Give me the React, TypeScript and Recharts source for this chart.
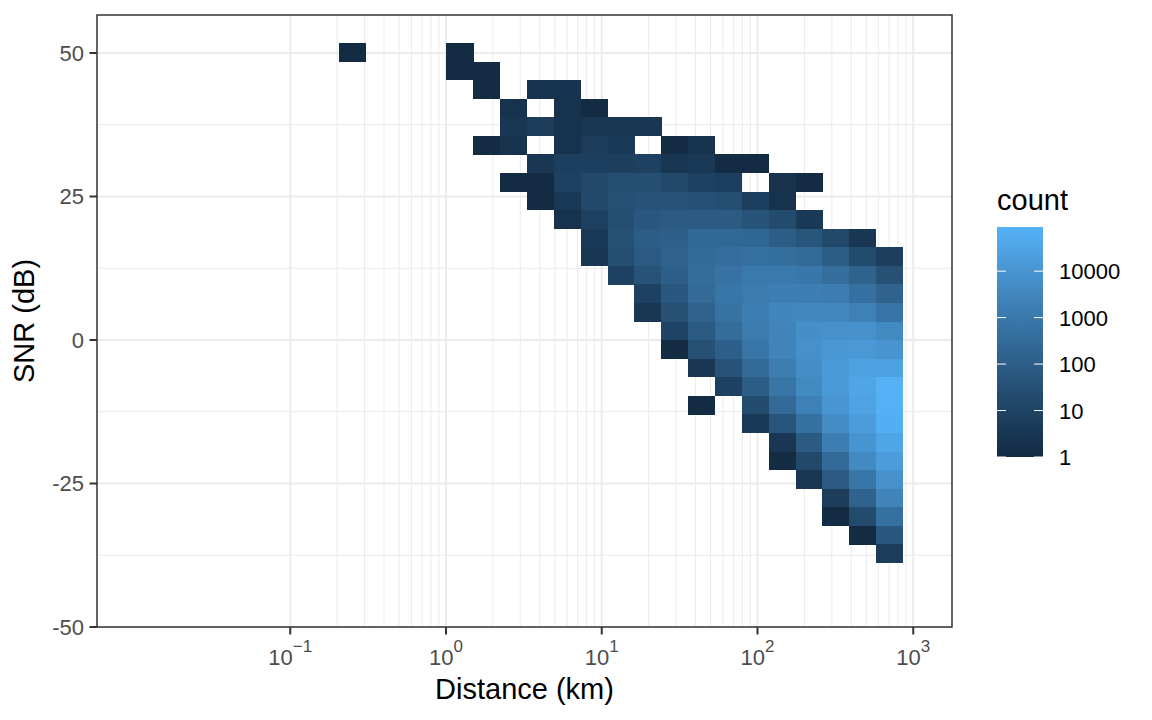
import React from "react";
import { ScatterChart, Scatter, XAxis, YAxis, CartesianGrid, ReferenceArea } from "recharts";

const distanceBins = [0.2506, 0.3728, 0.5544, 0.8248, 1.227, 1.825, 2.715, 4.04, 6.01, 8.94, 13.3, 19.78, 29.42, 43.76, 65.1, 96.8, 144, 214.2, 318.6, 473.9, 704.9];
const snrBins = [50.12, 46.89, 43.65, 40.42, 37.18, 33.95, 30.71, 27.48, 24.24, 21.0, 17.77, 14.54, 11.3, 8.06, 4.83, 1.59, -1.64, -4.88, -8.11, -11.35, -14.58, -17.82, -21.05, -24.28, -27.52, -30.76, -33.99, -37.23];
const counts = [
  [1, 0, 0, 0, 1, 0, 0, 0, 0, 0, 0, 0, 0, 0, 0, 0, 0, 0, 0, 0, 0],
  [0, 0, 0, 0, 1, 1, 0, 0, 0, 0, 0, 0, 0, 0, 0, 0, 0, 0, 0, 0, 0],
  [0, 0, 0, 0, 0, 1, 0, 2, 2, 0, 0, 0, 0, 0, 0, 0, 0, 0, 0, 0, 0],
  [0, 0, 0, 0, 0, 0, 2, 0, 2, 1, 0, 0, 0, 0, 0, 0, 0, 0, 0, 0, 0],
  [0, 0, 0, 0, 0, 0, 3, 5, 2, 3, 3, 3, 0, 0, 0, 0, 0, 0, 0, 0, 0],
  [0, 0, 0, 0, 0, 1, 2, 0, 2, 5, 4, 0, 1, 2, 0, 0, 0, 0, 0, 0, 0],
  [0, 0, 0, 0, 0, 0, 0, 3, 7, 7, 6, 8, 3, 4, 1, 1, 0, 0, 0, 0, 0],
  [0, 0, 0, 0, 0, 0, 1, 1, 8, 15, 25, 25, 15, 8, 7, 0, 2, 1, 0, 0, 0],
  [0, 0, 0, 0, 0, 0, 0, 1, 4, 15, 30, 40, 40, 35, 25, 7, 2, 0, 0, 0, 0],
  [0, 0, 0, 0, 0, 0, 0, 0, 2, 8, 25, 60, 80, 80, 80, 40, 20, 4, 0, 0, 0],
  [0, 0, 0, 0, 0, 0, 0, 0, 0, 4, 30, 100, 120, 250, 250, 220, 100, 50, 15, 3, 0],
  [0, 0, 0, 0, 0, 0, 0, 0, 0, 3, 25, 70, 150, 300, 400, 500, 450, 300, 100, 20, 6],
  [0, 0, 0, 0, 0, 0, 0, 0, 0, 0, 8, 40, 120, 350, 600, 1000, 1000, 900, 400, 150, 30],
  [0, 0, 0, 0, 0, 0, 0, 0, 0, 0, 0, 8, 60, 300, 800, 1200, 1700, 1700, 1300, 500, 150],
  [0, 0, 0, 0, 0, 0, 0, 0, 0, 0, 0, 3, 30, 150, 600, 1500, 3000, 3500, 3500, 2000, 700],
  [0, 0, 0, 0, 0, 0, 0, 0, 0, 0, 0, 0, 10, 70, 350, 1200, 2500, 6000, 7000, 7000, 4000],
  [0, 0, 0, 0, 0, 0, 0, 0, 0, 0, 0, 0, 1, 30, 120, 800, 2500, 7000, 12000, 13000, 9000],
  [0, 0, 0, 0, 0, 0, 0, 0, 0, 0, 0, 0, 0, 3, 40, 300, 1500, 6000, 15000, 25000, 25000],
  [0, 0, 0, 0, 0, 0, 0, 0, 0, 0, 0, 0, 0, 0, 8, 100, 800, 4000, 15000, 35000, 80000],
  [0, 0, 0, 0, 0, 0, 0, 0, 0, 0, 0, 0, 0, 1, 0, 20, 300, 2000, 10000, 30000, 85000],
  [0, 0, 0, 0, 0, 0, 0, 0, 0, 0, 0, 0, 0, 0, 0, 4, 50, 500, 5000, 18000, 70000],
  [0, 0, 0, 0, 0, 0, 0, 0, 0, 0, 0, 0, 0, 0, 0, 0, 3, 80, 1500, 9000, 35000],
  [0, 0, 0, 0, 0, 0, 0, 0, 0, 0, 0, 0, 0, 0, 0, 0, 1, 15, 300, 4000, 18000],
  [0, 0, 0, 0, 0, 0, 0, 0, 0, 0, 0, 0, 0, 0, 0, 0, 0, 3, 80, 800, 7000],
  [0, 0, 0, 0, 0, 0, 0, 0, 0, 0, 0, 0, 0, 0, 0, 0, 0, 0, 5, 150, 2500],
  [0, 0, 0, 0, 0, 0, 0, 0, 0, 0, 0, 0, 0, 0, 0, 0, 0, 0, 1, 20, 500],
  [0, 0, 0, 0, 0, 0, 0, 0, 0, 0, 0, 0, 0, 0, 0, 0, 0, 0, 0, 1, 60],
  [0, 0, 0, 0, 0, 0, 0, 0, 0, 0, 0, 0, 0, 0, 0, 0, 0, 0, 0, 0, 5],
];
const xMajor = [0.1, 1, 10, 100, 1000];
const xMinor = [
  0.2, 0.3, 0.4, 0.5, 0.6, 0.7, 0.8, 0.9,
  2, 3, 4, 5, 6, 7, 8, 9,
  20, 30, 40, 50, 60, 70, 80, 90,
  200, 300, 400, 500, 600, 700, 800, 900,
];
const xExponents = ["\u22121", "0", "1", "2", "3"];
const yMajor = [-50, -25, 0, 25, 50];
const yMinor = [-37.5, -12.5, 12.5, 37.5];
const legendTicks = [1, 10, 100, 1000, 10000];

const FONT = '"Liberation Sans", Arial, sans-serif';
const X_DOMAIN = [0.005744, 1773.8];
const Y_DOMAIN = [-50, 56.62];
const CELL_W = 26.86;
const CELL_H = 18.57;
const MAX_LOG = 4.95;

// ggplot2 default gradient: #132B43 -> #56B1F7, interpolated in Lab
const toLab = (rgb: number[]) => {
  const l = rgb.map((c) => {
    const v = c / 255;
    return v > 0.04045 ? Math.pow((v + 0.055) / 1.055, 2.4) : v / 12.92;
  });
  const X = (0.4124 * l[0] + 0.3576 * l[1] + 0.1805 * l[2]) / 0.95047;
  const Y = 0.2126 * l[0] + 0.7152 * l[1] + 0.0722 * l[2];
  const Z = (0.0193 * l[0] + 0.1192 * l[1] + 0.9505 * l[2]) / 1.08883;
  const f = (t: number) => (t > 0.008856 ? Math.cbrt(t) : 7.787 * t + 16 / 116);
  return [116 * f(Y) - 16, 500 * (f(X) - f(Y)), 200 * (f(Y) - f(Z))];
};
const fromLab = (lab: number[]) => {
  const fy = (lab[0] + 16) / 116;
  const fx = fy + lab[1] / 500;
  const fz = fy - lab[2] / 200;
  const g = (t: number) => (t * t * t > 0.008856 ? t * t * t : (t - 16 / 116) / 7.787);
  const X = g(fx) * 0.95047;
  const Y = g(fy);
  const Z = g(fz) * 1.08883;
  const lin = [
    3.2406 * X - 1.5372 * Y - 0.4986 * Z,
    -0.9689 * X + 1.8758 * Y + 0.0415 * Z,
    0.0557 * X - 0.204 * Y + 1.057 * Z,
  ];
  const out = lin.map((v) => {
    const c = Math.max(0, Math.min(1, v));
    return Math.round(255 * (c > 0.0031308 ? 1.055 * Math.pow(c, 1 / 2.4) - 0.055 : 12.92 * c));
  });
  return `rgb(${out[0]},${out[1]},${out[2]})`;
};
const LOW = toLab([0x13, 0x2b, 0x43]);
const HIGH = toLab([0x56, 0xb1, 0xf7]);
const ramp = (t: number) => fromLab(LOW.map((v, i) => v + (HIGH[i] - v) * t));
const colorOf = (count: number) => ramp(Math.log10(count) / MAX_LOG);

const cells = snrBins.flatMap((snr, r) =>
  distanceBins.map((km, c) => ({ km, snr, count: counts[r][c] })).filter((d) => d.count > 0),
);

const CellShape = (props: any) => {
  const { cx, cy, payload } = props;
  const left = Math.round(cx - CELL_W / 2);
  const right = Math.round(cx + CELL_W / 2 + 0.3);
  const top = Math.round(cy - CELL_H / 2);
  const bottom = Math.round(cy + CELL_H / 2 + 0.15);
  return (
    <rect
      x={left}
      y={top}
      width={right - left}
      height={bottom - top}
      fill={colorOf(payload.count)}
      shapeRendering="crispEdges"
    />
  );
};

const PowerTick = (props: any) => {
  const { x, y, index } = props;
  return (
    <text x={x} y={y} textAnchor="middle" fontFamily={FONT} fill="#4D4D4D">
      <tspan fontSize={22} dy={28.5}>10</tspan>
      <tspan fontSize={17} dy={-13}>{xExponents[index]}</tspan>
    </text>
  );
};

const LEG = { x: 997, w: 46, top: 227, bottom: 457 };
const Legend = () => {
  const yOf = (v: number) => LEG.bottom - ((LEG.bottom - LEG.top) * Math.log10(v)) / MAX_LOG;
  const stops = Array.from({ length: 21 }, (_, i) => i / 20);
  return (
    <svg width={1152} height={720} style={{ position: "absolute", left: 0, top: 0, pointerEvents: "none" }}>
      <defs>
        <linearGradient id="countRamp" x1="0" y1="1" x2="0" y2="0">
          {stops.map((s) => (
            <stop key={s} offset={s} stopColor={ramp(s)} />
          ))}
        </linearGradient>
      </defs>
      <text x={LEG.x} y={210} fontFamily={FONT} fontSize={29} fill="#000">count</text>
      <rect x={LEG.x} y={LEG.top} width={LEG.w} height={LEG.bottom - LEG.top} fill="url(#countRamp)" />
      {legendTicks.map((v) => (
        <g key={v}>
          <line x1={LEG.x} x2={LEG.x + 9} y1={yOf(v)} y2={yOf(v)} stroke="#fff" strokeWidth={1} />
          <line x1={LEG.x + LEG.w - 9} x2={LEG.x + LEG.w} y1={yOf(v)} y2={yOf(v)} stroke="#fff" strokeWidth={1} />
          <text x={1059} y={yOf(v) + 8} fontFamily={FONT} fontSize={22} fill="#000">{v}</text>
        </g>
      ))}
    </svg>
  );
};

export default function App() {
  return (
    <div style={{ position: "absolute", left: 0, top: 0, width: 1152, height: 720, background: "#fff" }}>
      <ScatterChart width={1152} height={720} margin={{ top: 15, right: 200, bottom: 0, left: 0 }}>
        <CartesianGrid stroke="#EBEBEB" strokeWidth={1} verticalValues={xMinor} horizontalValues={yMinor} />
        <CartesianGrid stroke="#EBEBEB" strokeWidth={2} verticalValues={xMajor} horizontalValues={yMajor} />
        <XAxis
          dataKey="km"
          type="number"
          scale="log"
          domain={X_DOMAIN}
          ticks={xMajor}
          interval={0}
          height={93}
          tick={<PowerTick />}
          tickSize={7.5}
          tickLine={{ stroke: "#333333", strokeWidth: 2 }}
          axisLine={false}
          allowDataOverflow
          label={{ value: "Distance (km)", position: "insideBottom", offset: 21, fontFamily: FONT, fontSize: 29, fill: "#000" }}
        />
        <YAxis
          dataKey="snr"
          type="number"
          domain={Y_DOMAIN}
          ticks={yMajor}
          interval={0}
          width={97}
          tick={{ fontFamily: FONT, fontSize: 22, fill: "#4D4D4D" }}
          tickSize={7.5}
          tickMargin={5.5}
          tickLine={{ stroke: "#333333", strokeWidth: 2 }}
          axisLine={false}
          allowDataOverflow
          label={{ value: "SNR (dB)", angle: -90, position: "insideLeft", offset: 24, fontFamily: FONT, fontSize: 29, fill: "#000", style: { textAnchor: "middle" } }}
        />
        <Scatter data={cells} shape={<CellShape />} isAnimationActive={false} />
        <ReferenceArea
          x1={X_DOMAIN[0]}
          x2={X_DOMAIN[1]}
          y1={Y_DOMAIN[0]}
          y2={Y_DOMAIN[1]}
          fill="none"
          stroke="#333333"
          strokeWidth={1.5}
          ifOverflow="visible"
        />
      </ScatterChart>
      <Legend />
    </div>
  );
}
